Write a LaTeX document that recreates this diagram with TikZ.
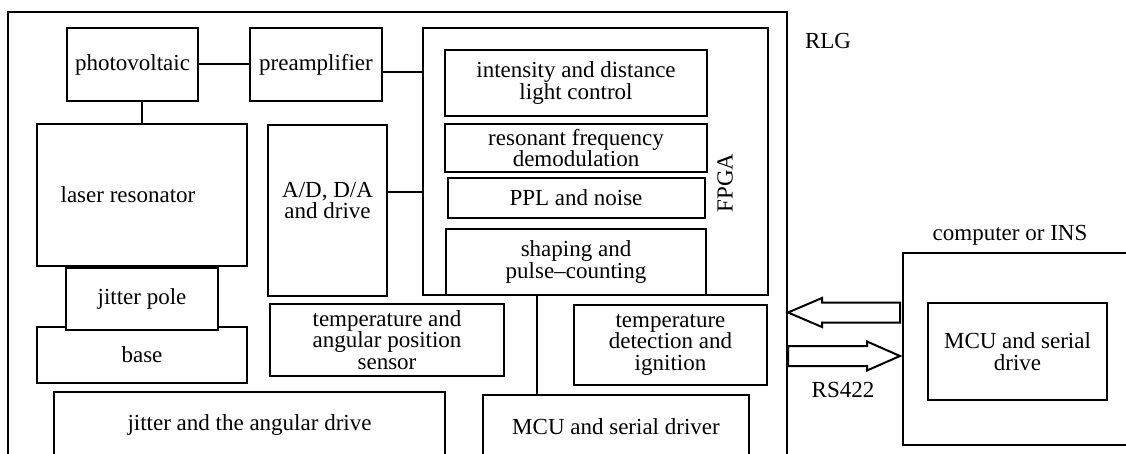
\documentclass[tikz,border=0pt]{standalone}
\usepackage{fontspec}
\setmainfont{Liberation Serif}
\usetikzlibrary{positioning, calc}

\begin{document}
\begin{tikzpicture}[
        x=1pt, y=-1pt,
        font=\fontsize{23}{21.5}\selectfont,
        box/.style={rectangle, draw, line width=2pt, outer sep=0pt, inner sep=2pt, align=center},
        frame/.style={rectangle, draw, line width=2pt, outer sep=0pt},
        link/.style={line width=2pt},
        hollow/.style={draw, line width=2pt, fill=white, line join=miter}
    ]
        \useasboundingbox (0,0) rectangle (1126,454);
        \clip (0,0) rectangle (1126,454);

        % 1. Outer frames
        \node (rlg) [frame, minimum width=779pt, minimum height=458pt] at (397.5,241) {};
        \node (comp) [frame, minimum width=229pt, minimum height=192pt] at (1017.5,349) {};
        \node (rlglabel) at (828,41) {RLG};
        \node (complabel) at (1010,235) {computer or INS};

        % 2. Optical head
        \node (photo) [box, minimum width=131pt, minimum height=73pt] at (132.5,64.5) {photovoltaic};
        \node (pre) [box, minimum width=132pt, minimum height=73pt, right=52pt of photo] {preamplifier};
        \node (laser) [box, minimum width=210pt, minimum height=142pt] at (142,195) {\hspace*{-28pt}laser resonator};
        \node (base) [box, minimum width=210pt, minimum height=56pt] at (142,355) {base};
        \node (pole) [box, fill=white, minimum width=152pt, minimum height=62pt] at (142,299) {jitter pole};
        \node (drive) [box, minimum width=391pt, minimum height=66pt] at (249.5,425) {jitter and the angular drive};

        % 3. Electronics
        \node (ad) [box, minimum width=119pt, minimum height=171pt] at (327.5,210.5) {A/D, D/A\\and drive\\[-1.5pt]};
        \node (tsens) [box, minimum width=234pt, minimum height=72pt] at (387,340) {temperature and\\angular position\\sensor};
        \node (tdet) [box, minimum width=193pt, minimum height=80pt] at (670.5,345) {temperature\\detection and\\ignition};
        \node (mcu) [box, minimum width=266pt, minimum height=64pt] at (616,427) {MCU and serial driver};

        % 4. FPGA
        \node (fpga) [frame, minimum width=345pt, minimum height=267pt] at (595.5,161.5) {};
        \node (fpgalabel) [rotate=90] at (725,183) {FPGA};
        \node (intens) [box, minimum width=262pt, minimum height=66pt] at (576,83) {intensity and distance\\light control};
        \node (reson) [box, minimum width=262pt, minimum height=48pt, below=8pt of intens] {resonant frequency\\demodulation};
        \node (ppl) [box, minimum width=257pt, minimum height=40pt, below=6pt of reson] {PPL and noise};
        \node (shape) [box, minimum width=260pt, minimum height=66pt, below=11pt of ppl] {shaping and\\pulse--counting};

        % 5. Host side
        \node (mcuser) [box, minimum width=179pt, minimum height=97pt] at (1017.5,351.5) {MCU and serial\\drive};
        \node (rs) at (843,390) {RS422};

        % Connections
        \draw [link] (photo) -- (pre);
        \draw [link] (laser.north) -- (laser.north |- photo.south);
        \coordinate (preout) at ($(pre.north east)+(0,44)$);
        \draw [link] (preout) -- (preout -| fpga.west);
        \coordinate (adout) at ($(ad.north east)+(0,67)$);
        \draw [link] (adout) -- (adout -| fpga.west);
        \coordinate (fpgaout) at ($(fpga.south west)+(114,0)$);
        \draw [link] (fpgaout) -- (fpgaout |- mcu.north);

        % Serial link
        \coordinate (rxtip) at (788,312.5);
        \coordinate (rxtail) at (900,312.5);
        \coordinate (txtail) at (788,356);
        \coordinate (txtip) at (900,356);
        \draw [hollow] ($(rxtail)+(0,-10)$) -- ($(rxtip)+(34,-10)$) -- ($(rxtip)+(34,-14.5)$) -- (rxtip)
            -- ($(rxtip)+(34,14.5)$) -- ($(rxtip)+(34,10)$) -- ($(rxtail)+(0,10)$) -- cycle;
        \draw [hollow] ($(txtail)+(0,-10)$) -- ($(txtip)+(-33,-10)$) -- ($(txtip)+(-33,-14.5)$) -- (txtip)
            -- ($(txtip)+(-33,14.5)$) -- ($(txtip)+(-33,10)$) -- ($(txtail)+(0,10)$) -- cycle;

    \end{tikzpicture}
\end{document}
